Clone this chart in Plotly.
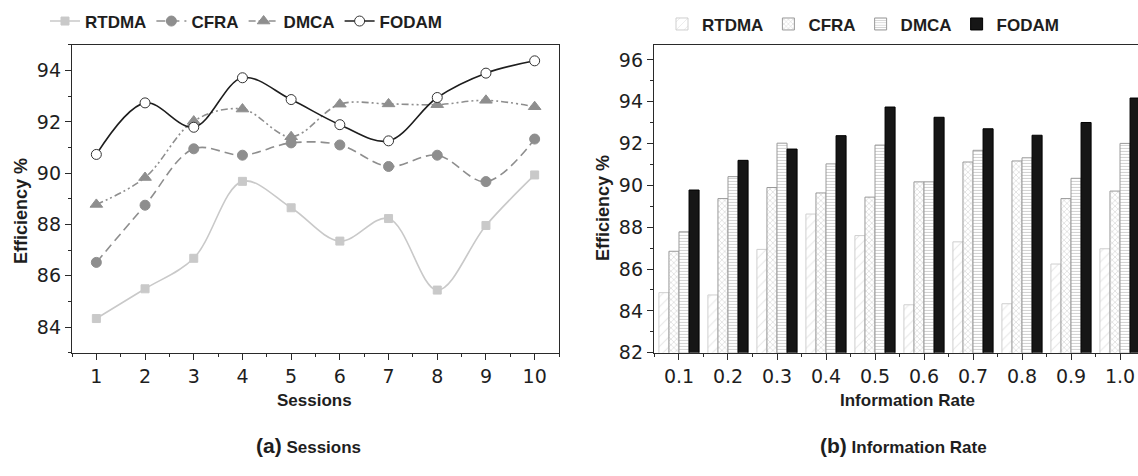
import plotly.graph_objects as go

W, H = 1138, 476

# ---------------- data ----------------
sessions = [1, 2, 3, 4, 5, 6, 7, 8, 9, 10]
rtdma_s = [84.33, 85.49, 86.68, 89.68, 88.65, 87.35, 88.23, 85.44, 87.96, 89.93]
cfra_s = [86.52, 88.75, 90.95, 90.70, 91.18, 91.10, 90.26, 90.70, 89.67, 91.33]
dmca_s = [88.78, 89.83, 92.03, 92.50, 91.42, 92.69, 92.70, 92.67, 92.84, 92.59]
fodam_s = [90.73, 92.74, 91.79, 93.72, 92.87, 91.89, 91.26, 92.95, 93.90, 94.38]

rates = ["0.1", "0.2", "0.3", "0.4", "0.5", "0.6", "0.7", "0.8", "0.9", "1.0"]
rtdma_r = [84.87, 84.76, 86.94, 88.63, 87.60, 84.29, 87.30, 84.34, 86.24, 86.97]
cfra_r = [86.85, 89.37, 89.90, 89.64, 89.44, 90.17, 91.12, 91.17, 89.37, 89.73]
dmca_r = [87.78, 90.42, 92.02, 91.03, 91.93, 90.17, 91.68, 91.32, 90.34, 92.01]
fodam_r = [89.78, 91.20, 91.74, 92.38, 93.75, 93.26, 92.71, 92.40, 93.01, 94.18]

names = ["RTDMA", "CFRA", "DMCA", "FODAM"]

# ---------------- helpers ----------------
def px(x):
    return x / W

def py(y):
    return 1 - y / H

TXT = "#1e1e1e"
AX = "#2a2a2a"
BOLD = "Liberation Sans"
TICKF = dict(family="DejaVu Sans", size=19, color=TXT)

fig = go.Figure()

# ---------------- left: line chart ----------------
line_styles = [
    dict(color="#c9c9c9", dash="solid", symbol="square", msize=8, mcolor="#c9c9c9", mline="#c9c9c9"),
    dict(color="#8e8e8e", dash="9px,5px", symbol="circle", msize=10, mcolor="#8e8e8e", mline="#8e8e8e"),
    dict(color="#8e8e8e", dash="7px,3px,2px,3px,2px,3px", symbol="triangle-up", msize=11, mcolor="#8e8e8e", mline="#8e8e8e"),
    dict(color="#1e1e1e", dash="solid", symbol="circle", msize=10, mcolor="#ffffff", mline="#333333"),
]
for name, vals, st in zip(names, [rtdma_s, cfra_s, dmca_s, fodam_s], line_styles):
    fig.add_trace(go.Scatter(
        x=sessions, y=vals, name="<b>" + name + "</b>", mode="lines+markers",
        line=dict(color=st["color"], width=1.6, dash=st["dash"], shape="spline", smoothing=1.0),
        marker=dict(symbol=st["symbol"], size=st["msize"], color=st["mcolor"],
                    line=dict(color=st["mline"], width=1)),
        xaxis="x", yaxis="y", legend="legend",
    ))

# ---------------- right: grouped bar chart ----------------
bar_styles = [
    dict(fill="#ffffff", line="#cfcfcf", pattern=dict(shape="/", fgcolor="#cfcfcf", bgcolor="#ffffff", size=7, solidity=0.15)),
    dict(fill="#ffffff", line="#9a9a9a", pattern=dict(shape="x", fgcolor="#9a9a9a", bgcolor="#ffffff", size=4, solidity=0.25)),
    dict(fill="#ffffff", line="#9a9a9a", pattern=dict(shape="-", fgcolor="#9a9a9a", bgcolor="#ffffff", size=3, solidity=0.3)),
    dict(fill="#161616", line="#000000", pattern=None),
]
xidx = list(range(len(rates)))
for name, vals, st in zip(names, [rtdma_r, cfra_r, dmca_r, fodam_r], bar_styles):
    m = dict(color=st["fill"], line=dict(color=st["line"], width=1))
    if st["pattern"]:
        m["pattern"] = st["pattern"]
    fig.add_trace(go.Bar(
        x=xidx, y=vals, name="<b>" + name + "</b>", marker=m,
        xaxis="x2", yaxis="y2", legend="legend2",
    ))

axis_common = dict(
    showline=True, linecolor=AX, linewidth=1.3, ticks="outside", ticklen=6,
    tickwidth=1.2, tickcolor=AX, showgrid=False, zeroline=False, tickfont=TICKF,
)

fig.update_layout(
    width=W, height=H,
    margin=dict(l=0, r=0, t=0, b=0),
    paper_bgcolor="white", plot_bgcolor="white",
    barmode="group", bargap=0.18, bargroupgap=0.0,
    xaxis=dict(domain=[px(72), px(559)], range=[0.5, 10.5], tickvals=sessions,
               mirror=True, anchor="y",
               minor=dict(ticks="outside", ticklen=3, tick0=0.5, dtick=1, tickcolor=AX),
               **axis_common),
    yaxis=dict(domain=[py(361), py(46)], range=[83, 95], dtick=2, tick0=84,
               mirror=True, anchor="x",
               minor=dict(ticks="outside", ticklen=3, tick0=83, dtick=1, tickcolor=AX),
               **axis_common),
    xaxis2=dict(domain=[px(654), 1.0], range=[-0.51, 9.367], tickvals=xidx, ticktext=rates,
                mirror=True, anchor="y2",
                minor=dict(ticks="outside", ticklen=3, tick0=0.5, dtick=1, tickcolor=AX),
                **axis_common),
    yaxis2=dict(domain=[py(361), py(46)], range=[82, 96.72], dtick=2, tick0=82,
                mirror=False, anchor="x2",
                minor=dict(ticks="outside", ticklen=3, tick0=83, dtick=1, tickcolor=AX),
                **axis_common),
    legend=dict(orientation="h", x=px(45), y=py(22), xanchor="left", yanchor="middle",
                font=dict(family=BOLD, size=17, color=TXT), bgcolor="rgba(0,0,0,0)",
                itemwidth=30, tracegroupgap=0),
    legend2=dict(orientation="h", x=px(662), y=py(25), xanchor="left", yanchor="middle",
                 font=dict(family=BOLD, size=17, color=TXT), bgcolor="rgba(0,0,0,0)",
                 itemwidth=30, tracegroupgap=0),
)

annots = [
    dict(text="<b>Efficiency %</b>", x=px(21), y=py(216), textangle=-90, size=18),
    dict(text="<b>Efficiency %</b>", x=px(603), y=py(213), textangle=-90, size=18),
    dict(text="<b>Sessions</b>", x=px(314), y=py(410), textangle=0, size=17),
    dict(text="<b>Information Rate</b>", x=px(907), y=py(410), textangle=0, size=17),
    dict(text="<b><span style='font-size:21px'>(a)</span> Sessions</b>", x=px(308), y=py(456), textangle=0, size=17),
    dict(text="<b><span style='font-size:21px'>(b)</span> Information Rate</b>", x=px(903), y=py(456), textangle=0, size=17),
]
for a in annots:
    fig.add_annotation(text=a["text"], x=a["x"], y=a["y"], xref="paper", yref="paper",
                       xanchor="center", yanchor="middle", showarrow=False,
                       textangle=a["textangle"],
                       font=dict(family=BOLD, size=a["size"], color=TXT))

fig.write_html("out.html")
